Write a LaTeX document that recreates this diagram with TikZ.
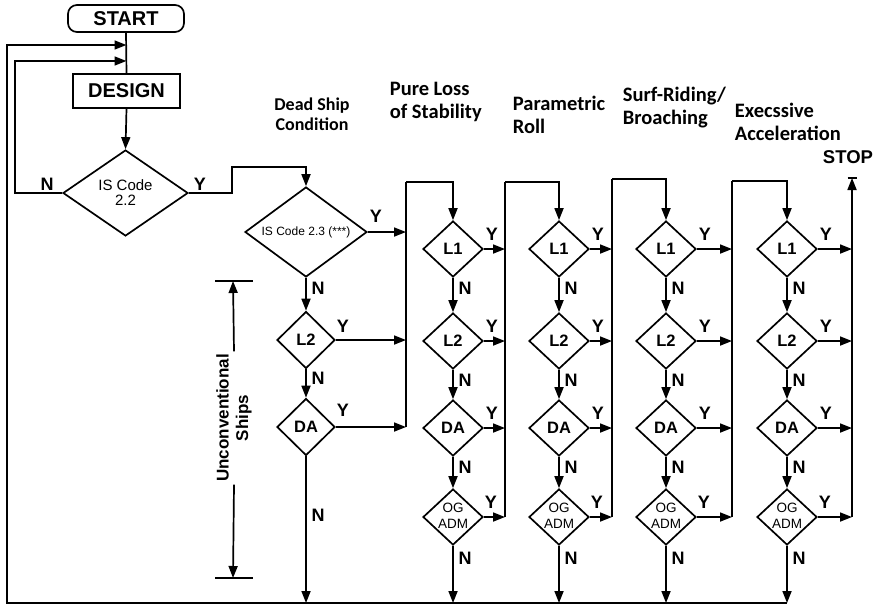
\documentclass[tikz,border=0pt]{standalone}
\usepackage{fontspec}
\setmainfont{Liberation Sans}
\newfontfamily\hdrfont{Carlito}
\usetikzlibrary{shapes.geometric,arrows.meta}
\begin{document}
\begin{tikzpicture}[x=1pt,y=-1pt,
  line width=1.7pt,
  arr/.style={-{Triangle[length=12pt,width=9pt]}},
  dia/.style={draw,diamond,inner sep=0pt,minimum width=60pt,minimum height=56pt,font=\bfseries\fontsize{16.5}{18}\selectfont},
  dia0/.style={dia,minimum width=58pt,minimum height=57pt},
  ogtxt/.style={inner sep=0pt,align=center,font=\fontsize{13.5}{16}\selectfont},
  lbl/.style={inner sep=0pt,font=\bfseries\fontsize{18}{19}\selectfont},
  hdr/.style={inner sep=0pt,anchor=west,align=left,font=\hdrfont\bfseries\fontsize{20.5}{23}\selectfont},
  boxtxt/.style={inner sep=0pt,font=\bfseries\fontsize{20}{20}\selectfont},
]
\useasboundingbox (0,0) rectangle (882,610);

% --- left part
\node[draw,boxtxt,rounded corners=9pt,minimum width=116pt,minimum height=27pt] (start) at (126,18.5) {START};
\node[draw,boxtxt,minimum width=107pt,minimum height=34pt] (design) at (126.5,91) {DESIGN};
\node[draw,diamond,inner sep=0pt,aspect=1.45,minimum width=125pt,minimum height=86pt,align=center,font=\fontsize{15}{15}\selectfont] (is22) at (125.5,193) {IS Code\\2.2};
\node[draw,diamond,inner sep=0pt,aspect=2.5,minimum width=122pt,minimum height=90pt,font=\fontsize{12}{13}\selectfont] (is23) at (306,232) {IS Code 2.3 (***)};
\node[dia0] (d0L2) at (306,340) {L2};
\node[dia0] (d0DA) at (306,427) {DA};

% --- columns
\foreach \c/\x in {1/453,2/559,3/666,4/787}{
  \node[dia] (c\c-L1) at (\x,249) {L1};
  \node[dia] (c\c-L2) at (\x,341) {L2};
  \node[dia] (c\c-DA) at (\x,428) {DA};
  \node[dia] (c\c-OG) at (\x,517) {};
  \node[ogtxt] (c\c-OGt) at (\x,516) {OG\\ADM};
}

% --- coordinates
\coordinate (bot) at (7,603);
\coordinate (lt1) at (7,45);
\coordinate (lt2) at (15,61);
\coordinate (j1) at (232,167);
\coordinate (v0t) at (406,182);
\coordinate (v1t) at (505,182);
\coordinate (v2t) at (612,179);
\coordinate (v3t) at (732,181);
\coordinate (stopb) at (852,517);
\coordinate (stopt) at (852,178);
\coordinate (ust) at (233,281);
\coordinate (usb) at (233,578);

% --- headers
\node[hdr,anchor=center,align=center,font=\hdrfont\bfseries\fontsize{18}{20}\selectfont] (h0) at (312,114) {Dead Ship\\Condition};
\node[hdr] (h1) at (389,101.5) {Pure Loss\\of Stability};
\node[hdr] (h2) at (512,115) {Parametric\\Roll};
\node[hdr] (h3) at (622,107.5) {Surf-Riding/\\Broaching};
\node[hdr] (h4) at (734,121.5) {Execssive\\Acceleration};
\node[boxtxt,font=\bfseries\fontsize{18.5}{20}\selectfont] (stop) at (848,157) {STOP};

% --- main flow
\draw (start.south) -- (design.north);
\draw[arr] (design.south) -- (is22.north);
\draw[arr] (c4-OG.south |- bot) -- (bot) -- (lt1) -- (lt1 -| design.north);
\draw[arr] (is22.west) -| (lt2) -- (lt2 -| design.north);
\draw[arr] (is22.east) -| (j1) -| (is23.north);
\draw[arr] (is23.south) -- (d0L2.north);
\draw[arr] (d0L2.south) -- (d0DA.north);
\draw[arr] (d0DA.south) -- (d0DA.south |- bot);
\draw[arr] (is23.east) -- (is23.east -| v0t);
\draw[arr] (d0L2.east) -- (d0L2.east -| v0t);
\draw[arr] (d0DA.east) -- (d0DA.east -| v0t);
\draw (v0t) -- (v0t |- d0DA.east);

% --- column flows
\foreach \c/\vin/\vout in {1/v0t/v1t,2/v1t/v2t,3/v2t/v3t,4/v3t/stopb}{
  \draw[arr] (\vin) -| (c\c-L1.north);
  \draw[arr] (c\c-L1.south) -- (c\c-L2.north);
  \draw[arr] (c\c-L2.south) -- (c\c-DA.north);
  \draw[arr] (c\c-DA.south) -- (c\c-OG.north);
  \draw[arr] (c\c-OG.south) -- (c\c-OG.south |- bot);
  \draw[arr] (c\c-L1.east) -- (c\c-L1.east -| \vout);
  \draw[arr] (c\c-L2.east) -- (c\c-L2.east -| \vout);
  \draw[arr] (c\c-DA.east) -- (c\c-DA.east -| \vout);
  \draw[arr] (c\c-OG.east) -- (c\c-OG.east -| \vout);
  \node[lbl] (c\c-L1y) at ([shift={(8pt,15pt)}]c\c-L1.east) {Y};
  \node[lbl] (c\c-L2y) at ([shift={(8pt,15pt)}]c\c-L2.east) {Y};
  \node[lbl] (c\c-DAy) at ([shift={(8pt,15pt)}]c\c-DA.east) {Y};
  \node[lbl] (c\c-OGy) at ([shift={(7pt,15pt)}]c\c-OG.east) {Y};
  \node[lbl] (c\c-L1n) at ([shift={(12pt,-10pt)}]c\c-L1.south) {N};
  \node[lbl] (c\c-L2n) at ([shift={(12pt,-10pt)}]c\c-L2.south) {N};
  \node[lbl] (c\c-DAn) at ([shift={(12pt,-10pt)}]c\c-DA.south) {N};
  \node[lbl] (c\c-OGn) at ([shift={(12pt,-12pt)}]c\c-OG.south) {N};
}
\draw (v1t) -- (v1t |- stopb);
\draw (v2t) -- (v2t |- stopb);
\draw (v3t) -- (v3t |- stopb);
\draw[arr] (stopb) -- (stopt);
\draw ([xshift=-4.5pt]stopt) -- ([xshift=4.5pt]stopt);

% --- labels left part
\node[lbl] (is22n) at ([shift={(-15pt,9pt)}]is22.west) {N};
\node[lbl] (is22y) at ([shift={(11pt,9pt)}]is22.east) {Y};
\node[lbl] (is23y) at ([shift={(8pt,16pt)}]is23.east) {Y};
\node[lbl] (is23n) at ([shift={(12pt,-10pt)}]is23.south) {N};
\node[lbl] (d0L2y) at ([shift={(7pt,14pt)}]d0L2.east) {Y};
\node[lbl] (d0L2n) at ([shift={(12pt,-9pt)}]d0L2.south) {N};
\node[lbl] (d0DAy) at ([shift={(7pt,17pt)}]d0DA.east) {Y};
\node[lbl] (d0DAn) at (318,515) {N};

% --- unconventional ships dimension
\node[rotate=90,fill=white,inner sep=2pt,align=center,font=\bfseries\fontsize{17}{19.5}\selectfont] (us) at (234,418) {Unconventional\\Ships};
\draw ([xshift=-18pt]ust) -- ([xshift=20pt]ust);
\draw ([xshift=-18pt]usb) -- ([xshift=20pt]usb);
\draw[arr] (us.east) -- (ust);
\draw[arr] (us.west) -- (usb);
\end{tikzpicture}
\end{document}
